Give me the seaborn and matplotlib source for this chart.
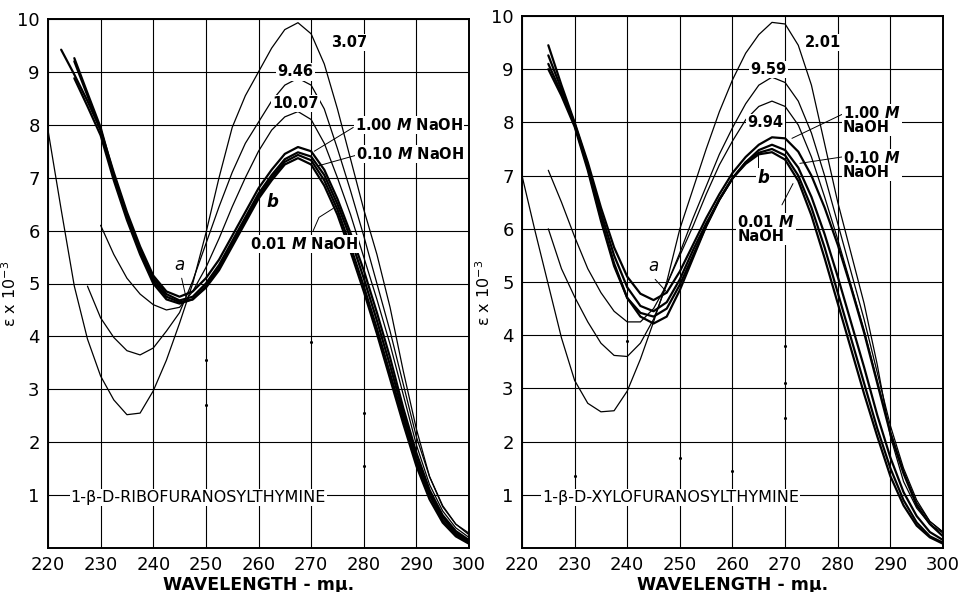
import numpy as np
import pandas as pd
import seaborn as sns
import matplotlib.pyplot as plt

nan = np.nan

# ========== DADOS ==========
wavelength = [220, 222.5, 225, 227.5, 230, 232.5, 235, 237.5, 240, 242.5, 245, 247.5,
              250, 252.5, 255, 257.5, 260, 262.5, 265, 267.5, 270, 272.5, 275, 277.5,
              280, 282.5, 285, 287.5, 290, 292.5, 295, 297.5, 300]

# 1-beta-D-ribofuranosylthymine
ribo_ph307 = [7.90, 6.40, 4.95, 3.95, 3.25, 2.80, 2.52, 2.55, 2.97, 3.55, 4.25, 5.00,
              5.95, 7.00, 7.95, 8.55, 9.00, 9.45, 9.80, 9.93, 9.72, 9.15, 8.30, 7.35,
              6.40, 5.55, 4.55, 3.35, 2.25, 1.35, 0.78, 0.45, 0.28]
ribo_ph946 = [nan, nan, nan, 4.95, 4.35, 3.98, 3.73, 3.65, 3.78, 4.10, 4.45, 5.05,
              5.75, 6.45, 7.10, 7.65, 8.05, 8.45, 8.75, 8.88, 8.75, 8.30, 7.55, 6.75,
              5.90, 5.00, 4.10, 3.10, 2.10, 1.35, 0.80, 0.45, 0.25]
ribo_ph1007 = [nan, nan, nan, nan, 6.10, 5.55, 5.10, 4.80, 4.60, 4.50, 4.55, 4.85,
               5.30, 5.85, 6.45, 7.00, 7.50, 7.90, 8.15, 8.25, 8.10, 7.65, 7.00, 6.30,
               5.50, 4.70, 3.85, 2.90, 1.95, 1.20, 0.70, 0.38, 0.20]
ribo_naoh100 = [nan, 9.42, 8.95, 8.45, 7.90, 7.10, 6.35, 5.70, 5.15, 4.85, 4.75, 4.85,
                5.10, 5.45, 5.90, 6.35, 6.80, 7.15, 7.45, 7.58, 7.50, 7.15, 6.60, 5.95,
                5.25, 4.45, 3.60, 2.65, 1.80, 1.10, 0.62, 0.32, 0.15]
ribo_naoh_x = [nan, nan, 9.26, 8.60, 7.95, 7.05, 6.30, 5.65, 5.10, 4.80, 4.68, 4.75,
               5.00, 5.35, 5.80, 6.25, 6.70, 7.05, 7.35, 7.48, 7.40, 7.05, 6.50, 5.85,
               5.10, 4.30, 3.45, 2.55, 1.70, 1.05, 0.58, 0.28, 0.12]
ribo_naoh010 = [nan, nan, 9.20, 8.55, 7.90, 7.00, 6.25, 5.60, 5.05, 4.75, 4.65, 4.70,
                4.95, 5.30, 5.75, 6.20, 6.65, 7.00, 7.30, 7.43, 7.33, 6.95, 6.40, 5.70,
                4.95, 4.15, 3.30, 2.45, 1.62, 1.00, 0.52, 0.25, 0.10]
ribo_naoh001 = [nan, nan, 8.88, 8.35, 7.80, 6.95, 6.20, 5.55, 5.00, 4.70, 4.62, 4.70,
                4.92, 5.25, 5.70, 6.15, 6.60, 6.95, 7.25, 7.37, 7.25, 6.85, 6.30, 5.60,
                4.85, 4.05, 3.20, 2.35, 1.55, 0.92, 0.48, 0.22, 0.08]

# 1-beta-D-xylofuranosylthymine
xylo_ph201 = [7.00, 5.95, 4.95, 3.95, 3.15, 2.72, 2.56, 2.58, 2.95, 3.55, 4.25, 5.00,
              6.00, 6.75, 7.50, 8.20, 8.80, 9.30, 9.65, 9.88, 9.85, 9.45, 8.70, 7.60,
              6.50, 5.55, 4.60, 3.45, 2.10, 1.25, 0.75, 0.45, 0.28]
xylo_ph959 = [nan, nan, 6.00, 5.25, 4.72, 4.25, 3.85, 3.62, 3.60, 3.85, 4.30, 4.95,
              5.55, 6.20, 6.80, 7.40, 7.90, 8.35, 8.70, 8.85, 8.75, 8.40, 7.80, 7.00,
              6.10, 5.20, 4.30, 3.30, 2.30, 1.50, 0.90, 0.50, 0.30]
xylo_ph994 = [nan, nan, 7.10, 6.50, 5.85, 5.25, 4.80, 4.45, 4.25, 4.25, 4.50, 4.95,
              5.50, 6.05, 6.65, 7.20, 7.65, 8.05, 8.30, 8.40, 8.30, 7.95, 7.35, 6.60,
              5.80, 4.95, 4.10, 3.15, 2.20, 1.45, 0.85, 0.50, 0.30]
xylo_naoh100 = [nan, nan, 9.45, 8.70, 8.00, 7.25, 6.40, 5.65, 5.10, 4.78, 4.66, 4.80,
                5.20, 5.70, 6.20, 6.65, 7.05, 7.35, 7.58, 7.72, 7.70, 7.45, 7.00, 6.40,
                5.70, 4.90, 4.05, 3.10, 2.15, 1.40, 0.80, 0.45, 0.22]
xylo_naoh010 = [nan, nan, 9.26, 8.62, 7.98, 7.20, 6.30, 5.50, 4.90, 4.55, 4.45, 4.62,
                5.05, 5.60, 6.10, 6.55, 6.95, 7.25, 7.48, 7.58, 7.48, 7.15, 6.60, 5.90,
                5.10, 4.25, 3.40, 2.50, 1.70, 1.05, 0.60, 0.30, 0.15]
xylo_naoh_x = [nan, nan, 9.10, 8.55, 7.95, 7.15, 6.20, 5.35, 4.70, 4.35, 4.22, 4.35,
               4.85, 5.45, 6.05, 6.55, 6.95, 7.25, 7.43, 7.50, 7.38, 7.00, 6.40, 5.65,
               4.80, 3.95, 3.10, 2.25, 1.50, 0.90, 0.48, 0.22, 0.10]
xylo_naoh001 = [nan, nan, 9.00, 8.50, 7.92, 7.10, 6.15, 5.30, 4.70, 4.42, 4.35, 4.50,
                4.95, 5.50, 6.05, 6.55, 6.95, 7.22, 7.40, 7.44, 7.30, 6.90, 6.25, 5.45,
                4.60, 3.75, 2.90, 2.10, 1.35, 0.80, 0.42, 0.20, 0.08]

ribo_curves = [ribo_ph307, ribo_ph946, ribo_ph1007,
               ribo_naoh100, ribo_naoh_x, ribo_naoh010, ribo_naoh001]
xylo_curves = [xylo_ph201, xylo_ph959, xylo_ph994,
               xylo_naoh100, xylo_naoh010, xylo_naoh_x, xylo_naoh001]
curve_kind = ['thin', 'thin', 'thin', 'thick', 'thick', 'thick', 'thick']

# pontos soltos na figura original
ribo_dots_x = [250, 250, 270, 280, 280]
ribo_dots_y = [3.55, 2.70, 3.90, 2.55, 1.55]
xylo_dots_x = [230, 240, 250, 260, 270, 270, 270]
xylo_dots_y = [1.35, 3.90, 1.70, 1.45, 3.80, 3.10, 2.45]

x_ticks = [220, 230, 240, 250, 260, 270, 280, 290, 300]
y_ticks = [1, 2, 3, 4, 5, 6, 7, 8, 9, 10]

# ========== FIGURA ==========
sns.set_style('white')
plt.rcParams['font.family'] = ['DejaVu Sans']

fig = plt.figure(figsize=(9.62, 5.92), dpi=100)
ax_l = fig.add_axes([48 / 962, 1 - 548 / 592, 421 / 962, 529 / 592])
ax_r = fig.add_axes([522 / 962, 1 - 548 / 592, 421 / 962, 532 / 592])

box = dict(fc='white', ec='none', pad=0.8)
lab_kw = dict(fontsize=10.5, fontweight='bold', color='k', bbox=box)


def draw_panel(ax, curves, dots_x, dots_y):
    for vals, kind in zip(curves, curve_kind):
        sns.lineplot(x=wavelength, y=vals, ax=ax, color='k',
                     lw=1.6 if kind == 'thick' else 0.9,
                     estimator=None, sort=False)
    sns.scatterplot(x=dots_x, y=dots_y, ax=ax, color='k', s=5, linewidth=0)
    ax.set_xlim(220, 300)
    ax.set_ylim(0, 10)
    ax.set_xticks(x_ticks)
    ax.set_yticks(y_ticks)
    ax.grid(True, color='k', lw=0.8)
    ax.set_axisbelow(True)
    ax.tick_params(length=0, labelsize=13, pad=6, labelcolor='k')
    for s in ax.spines.values():
        s.set_color('k')
        s.set_linewidth(1.4)
    ax.set_xlabel('WAVELENGTH - mμ.', fontsize=12.5, fontweight='bold',
                  labelpad=1, color='k')
    ax.set_ylabel('ε x 10$^{-3}$', fontsize=11.5, color='k')
    ax.yaxis.set_label_coords(-0.068, 0.48)


draw_panel(ax_l, ribo_curves, ribo_dots_x, ribo_dots_y)
draw_panel(ax_r, xylo_curves, xylo_dots_x, xylo_dots_y)

# ----- textos painel esquerdo -----
ax_l.text(273.8, 9.55, '3.07', ha='left', va='center', **lab_kw)
ax_l.text(267.0, 9.0, '9.46', ha='center', va='center', **lab_kw)
ax_l.text(267.0, 8.4, '10.07', ha='center', va='center', **lab_kw)
ax_l.text(278.3, 8.0, '1.00 $\\mathbfit{M}$ NaOH', ha='left', va='center', **lab_kw)
ax_l.text(278.6, 7.45, '0.10 $\\mathbfit{M}$ NaOH', ha='left', va='center', **lab_kw)
ax_l.text(258.3, 5.75, '0.01 $\\mathbfit{M}$ NaOH', ha='left', va='center', **lab_kw)
ax_l.plot([278.0, 270.6], [7.95, 7.5], color='k', lw=0.7)
ax_l.plot([278.4, 271.2], [7.42, 7.22], color='k', lw=0.7)
ax_l.plot([270.4, 271.5, 274.2], [6.0, 6.25, 6.42], color='k', lw=0.7)
ax_l.text(245.0, 5.35, 'a', ha='center', va='center', fontsize=12,
          style='italic', color='k')
ax_l.plot([245.4, 246.2], [5.1, 4.75], color='k', lw=0.7)
ax_l.text(262.6, 6.55, 'b', ha='center', va='center', fontsize=12,
          style='italic', fontweight='bold', color='k')
ax_l.text(224.3, 0.95, '1-β-D-RIBOFURANOSYLTHYMINE', ha='left', va='center',
          fontsize=11.5, color='k', bbox=box)

# ----- textos painel direito -----
ax_r.text(273.8, 9.5, '2.01', ha='left', va='center', **lab_kw)
ax_r.text(266.8, 9.0, '9.59', ha='center', va='center', **lab_kw)
ax_r.text(266.3, 8.0, '9.94', ha='center', va='center', **lab_kw)
ax_r.text(281.0, 8.05, '1.00 $\\mathbfit{M}$\nNaOH', ha='left', va='center',
          linespacing=0.9, **lab_kw)
ax_r.text(281.0, 7.2, '0.10 $\\mathbfit{M}$\nNaOH', ha='left', va='center',
          linespacing=0.9, **lab_kw)
ax_r.text(260.9, 6.0, '0.01 $\\mathbfit{M}$\nNaOH', ha='left', va='center',
          linespacing=0.9, **lab_kw)
ax_r.plot([280.8, 271.3], [8.15, 7.7], color='k', lw=0.7)
ax_r.plot([280.8, 272.8], [7.35, 7.23], color='k', lw=0.7)
ax_r.plot([269.4, 271.5], [6.45, 6.85], color='k', lw=0.7)
ax_r.text(244.9, 5.3, 'a', ha='center', va='center', fontsize=12,
          style='italic', color='k')
ax_r.plot([245.3, 247.6], [5.05, 4.8], color='k', lw=0.7)
ax_r.text(265.8, 6.95, 'b', ha='center', va='center', fontsize=12,
          style='italic', fontweight='bold', color='k', bbox=box)
ax_r.plot([264.8, 264.8], [7.15, 7.45], color='k', lw=0.7)
ax_r.text(223.8, 0.95, '1-β-D-XYLOFURANOSYLTHYMINE', ha='left', va='center',
          fontsize=11.5, color='k', bbox=box)

plt.savefig('out.png', dpi=100)
